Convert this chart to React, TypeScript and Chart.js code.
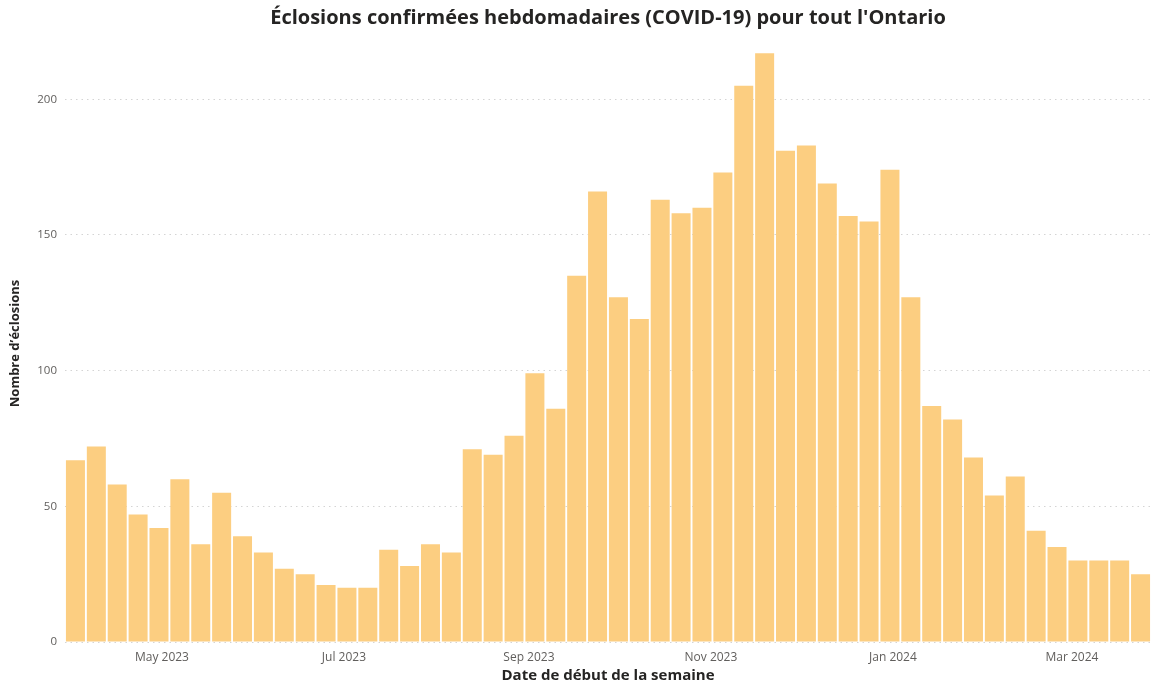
import React, { useEffect, useRef } from "react";
import { Chart, registerables } from "chart.js";

Chart.register(...registerables);

const weekStarts: string[] = [
  "2023-04-02", "2023-04-09", "2023-04-16", "2023-04-23", "2023-04-30",
  "2023-05-07", "2023-05-14", "2023-05-21", "2023-05-28",
  "2023-06-04", "2023-06-11", "2023-06-18", "2023-06-25",
  "2023-07-02", "2023-07-09", "2023-07-16", "2023-07-23", "2023-07-30",
  "2023-08-06", "2023-08-13", "2023-08-20", "2023-08-27",
  "2023-09-03", "2023-09-10", "2023-09-17", "2023-09-24",
  "2023-10-01", "2023-10-08", "2023-10-15", "2023-10-22", "2023-10-29",
  "2023-11-05", "2023-11-12", "2023-11-19", "2023-11-26",
  "2023-12-03", "2023-12-10", "2023-12-17", "2023-12-24", "2023-12-31",
  "2024-01-07", "2024-01-14", "2024-01-21", "2024-01-28",
  "2024-02-04", "2024-02-11", "2024-02-18", "2024-02-25",
  "2024-03-03", "2024-03-10", "2024-03-17", "2024-03-24",
];

const outbreaks: number[] = [
  67, 72, 58, 47, 42, 60, 36, 55, 39, 33, 27, 25, 21, 20, 20, 34, 28, 36, 33,
  71, 69, 76, 99, 86, 135, 166, 127, 119, 163, 158, 160, 173, 205, 217, 181,
  183, 169, 157, 155, 174, 127, 87, 82, 68, 54, 61, 41, 35, 30, 30, 30, 25,
];

const monthTickDates: string[] = ["2023-05-01", "2023-07-01", "2023-09-01", "2023-11-01", "2024-01-01", "2024-03-01"];
const monthTickLabels: string[] = ["May 2023", "Jul 2023", "Sep 2023", "Nov 2023", "Jan 2024", "Mar 2024"];
const yTicks: number[] = [0, 50, 100, 150, 200];

const TITLE = "Éclosions confirmées hebdomadaires (COVID-19) pour tout l'Ontario";
const Y_TITLE = "Nombre d’éclosions";
const X_TITLE = "Date de début de la semaine";

const DAY = 86400000;
const origin = Date.parse(weekStarts[0] + "T00:00:00Z");
const toDay = (s: string) => (Date.parse(s + "T00:00:00Z") - origin) / DAY;

export default function App() {
  const ref = useRef<HTMLCanvasElement | null>(null);

  useEffect(() => {
    document.body.style.margin = "0";
    if (!ref.current) return;
    const tickDays = monthTickDates.map(toDay);
    const chart = new Chart(ref.current, {
      type: "bar",
      data: {
        datasets: [
          {
            label: "Éclosions",
            data: weekStarts.map((d, i) => ({ x: toDay(d), y: outbreaks[i] })),
            backgroundColor: "#FCCE81",
            borderWidth: 0,
            barPercentage: 0.91,
            categoryPercentage: 1,
          },
        ],
      },
      options: {
        animation: false,
        responsive: true,
        maintainAspectRatio: false,
        layout: { padding: 0 },
        plugins: {
          legend: { display: false },
          tooltip: { enabled: false },
          title: {
            display: true,
            fullSize: false,
            text: TITLE,
            color: "#252423",
            font: { family: "'Open Sans'", size: 20, weight: "bold" },
            padding: { top: 6, bottom: 15 },
          },
        },
        scales: {
          x: {
            type: "linear",
            offset: false,
            min: toDay(weekStarts[0]) - 3.5,
            max: toDay(weekStarts[weekStarts.length - 1]) + 3.5,
            afterBuildTicks: (scale: any) => {
              scale.ticks = tickDays.map((v) => ({ value: v }));
            },
            afterFit: (scale: any) => {
              scale.height = 43;
            },
            grid: { display: false },
            border: { display: false },
            ticks: {
              autoSkip: false,
              maxRotation: 0,
              padding: 0,
              color: "#605E5C",
              font: { family: "'Open Sans'", size: 12 },
              callback: (v: any) => {
                const i = tickDays.indexOf(Number(v));
                return i >= 0 ? monthTickLabels[i] : "";
              },
            },
            title: {
              display: true,
              text: X_TITLE,
              color: "#252423",
              font: { family: "'Open Sans'", size: 15, weight: "bold" },
              padding: { top: 0, bottom: 0 },
            },
          },
          y: {
            min: 0,
            max: 220,
            afterBuildTicks: (scale: any) => {
              scale.ticks = yTicks.map((v) => ({ value: v }));
            },
            afterFit: (scale: any) => {
              scale.width = 65;
            },
            grid: {
              color: "#D4D4D4",
              lineWidth: 1,
              drawTicks: false,
            },
            border: { display: false, dash: [1.5, 4] },
            ticks: {
              padding: 8,
              color: "#605E5C",
              font: { family: "'Open Sans'", size: 11.5 },
            },
            title: {
              display: true,
              text: Y_TITLE,
              color: "#252423",
              font: { family: "'Open Sans'", size: 13, weight: "bold" },
              padding: { top: 7, bottom: 0 },
            },
          },
        },
      },
    } as any);
    return () => chart.destroy();
  }, []);

  return (
    <div style={{ position: "relative", width: 1151, height: 685 }}>
      <canvas ref={ref} />
    </div>
  );
}
